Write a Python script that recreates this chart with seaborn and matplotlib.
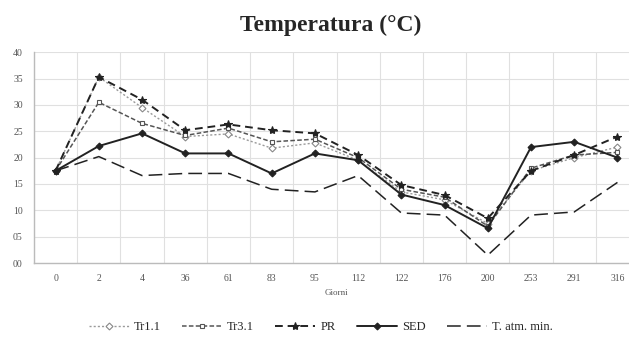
import numpy as np
import pandas as pd
import matplotlib
matplotlib.use("Agg")
import matplotlib.pyplot as plt
import seaborn as sns

# ── data ─────────────────────────────────────────────────────────────────────
giorni = ["0", "2", "4", "36", "61", "83", "95", "112", "122", "176", "200", "253", "291", "316"]
tr11 = [17.5, 35.3, 29.5, 24.0, 24.5, 21.8, 22.8, 19.5, 13.5, 12.0, 7.5, 17.5, 20.0, 22.0]
tr31 = [17.5, 30.5, 26.5, 24.2, 25.6, 23.0, 23.5, 20.0, 14.0, 12.5, 7.0, 18.0, 20.5, 21.0]
pr = [17.5, 35.3, 31.0, 25.2, 26.3, 25.2, 24.6, 20.5, 14.8, 12.9, 8.5, 17.5, 20.5, 24.0]
sed = [17.5, 22.2, 24.6, 20.8, 20.8, 17.0, 20.8, 19.5, 13.0, 11.0, 6.6, 22.0, 23.0, 20.0]
tmin = [17.5, 20.2, 16.6, 17.0, 17.0, 14.0, 13.5, 16.6, 9.5, 9.1, 1.5, 9.1, 9.7, 15.3]
y_ticks = [0, 5, 10, 15, 20, 25, 30, 35, 40]
y_labels = ["00", "05", "10", "15", "20", "25", "30", "35", "40"]

series = {"Tr1.1": tr11, "Tr3.1": tr31, "PR": pr, "SED": sed, "T. atm. min.": tmin}
df = pd.DataFrame(
    [(i, v, name) for name, vals in series.items() for i, v in enumerate(vals)],
    columns=["pos", "temp", "serie"],
)

styles = {
    "Tr1.1": dict(color="#9a9a9a", ls=(0, (1.5, 1.5)), marker="D", mfc="white", mec="#888888", ms=3.5, lw=1.0),
    "Tr3.1": dict(color="#555555", ls=(0, (3, 1.5)), marker="s", mfc="white", mec="#555555", ms=3.5, lw=1.1),
    "PR": dict(color="#222222", ls=(0, (4, 2.5)), marker="*", mfc="#222222", mec="#222222", ms=6, lw=1.4),
    "SED": dict(color="#222222", ls="-", marker="D", mfc="#222222", mec="#222222", ms=3.5, lw=1.4),
    "T. atm. min.": dict(color="#222222", ls=(0, (9, 4)), marker=None, mfc="none", mec="none", ms=0, lw=1.1),
}

sns.set_style("white")
plt.rcParams["font.family"] = ["Liberation Serif", "DejaVu Serif"]

fig = plt.figure(figsize=(6.29, 3.39), dpi=100)
ax = fig.add_axes([0.054, 0.224, 0.962, 0.622])

for name in series:
    st = styles[name]
    sns.lineplot(
        data=df[df["serie"] == name], x="pos", y="temp", ax=ax,
        color=st["color"], linestyle=st["ls"], linewidth=st["lw"],
        marker=st["marker"], markerfacecolor=st["mfc"], markeredgecolor=st["mec"],
        markersize=st["ms"], markeredgewidth=0.8, label=name, legend=False,
    )

ax.set_xlim(-0.5, len(giorni) - 0.5)
ax.set_ylim(0, 40)
ax.set_xticks(range(len(giorni)))
ax.set_xticklabels(giorni, fontsize=7, color="#555555")
ax.set_yticks(y_ticks)
ax.set_yticklabels(y_labels, fontsize=7, color="#555555")
ax.set_xticks(np.arange(-0.5, len(giorni), 1), minor=True)
ax.grid(which="minor", axis="x", color="#e0e0e0", lw=0.8)
ax.grid(which="major", axis="y", color="#e0e0e0", lw=0.8)
ax.tick_params(which="both", length=0, pad=8)
ax.set_xlabel("Giorni", fontsize=6.5, color="#555555", labelpad=4)
ax.set_ylabel("")
for side in ["top", "right"]:
    ax.spines[side].set_visible(False)
for side in ["left", "bottom"]:
    ax.spines[side].set_color("#bbbbbb")
    ax.spines[side].set_linewidth(1.0)

fig.text(0.525, 0.925, "Temperatura (°C)", ha="center", va="center",
         fontsize=17, fontweight="bold")

handles, labels = ax.get_legend_handles_labels()
fig.legend(handles, labels, loc="center", bbox_to_anchor=(0.51, 0.035), ncol=5,
           frameon=False, fontsize=9, handlelength=3.2, columnspacing=1.7,
           handletextpad=0.4)

fig.savefig("out.png", dpi=100)
